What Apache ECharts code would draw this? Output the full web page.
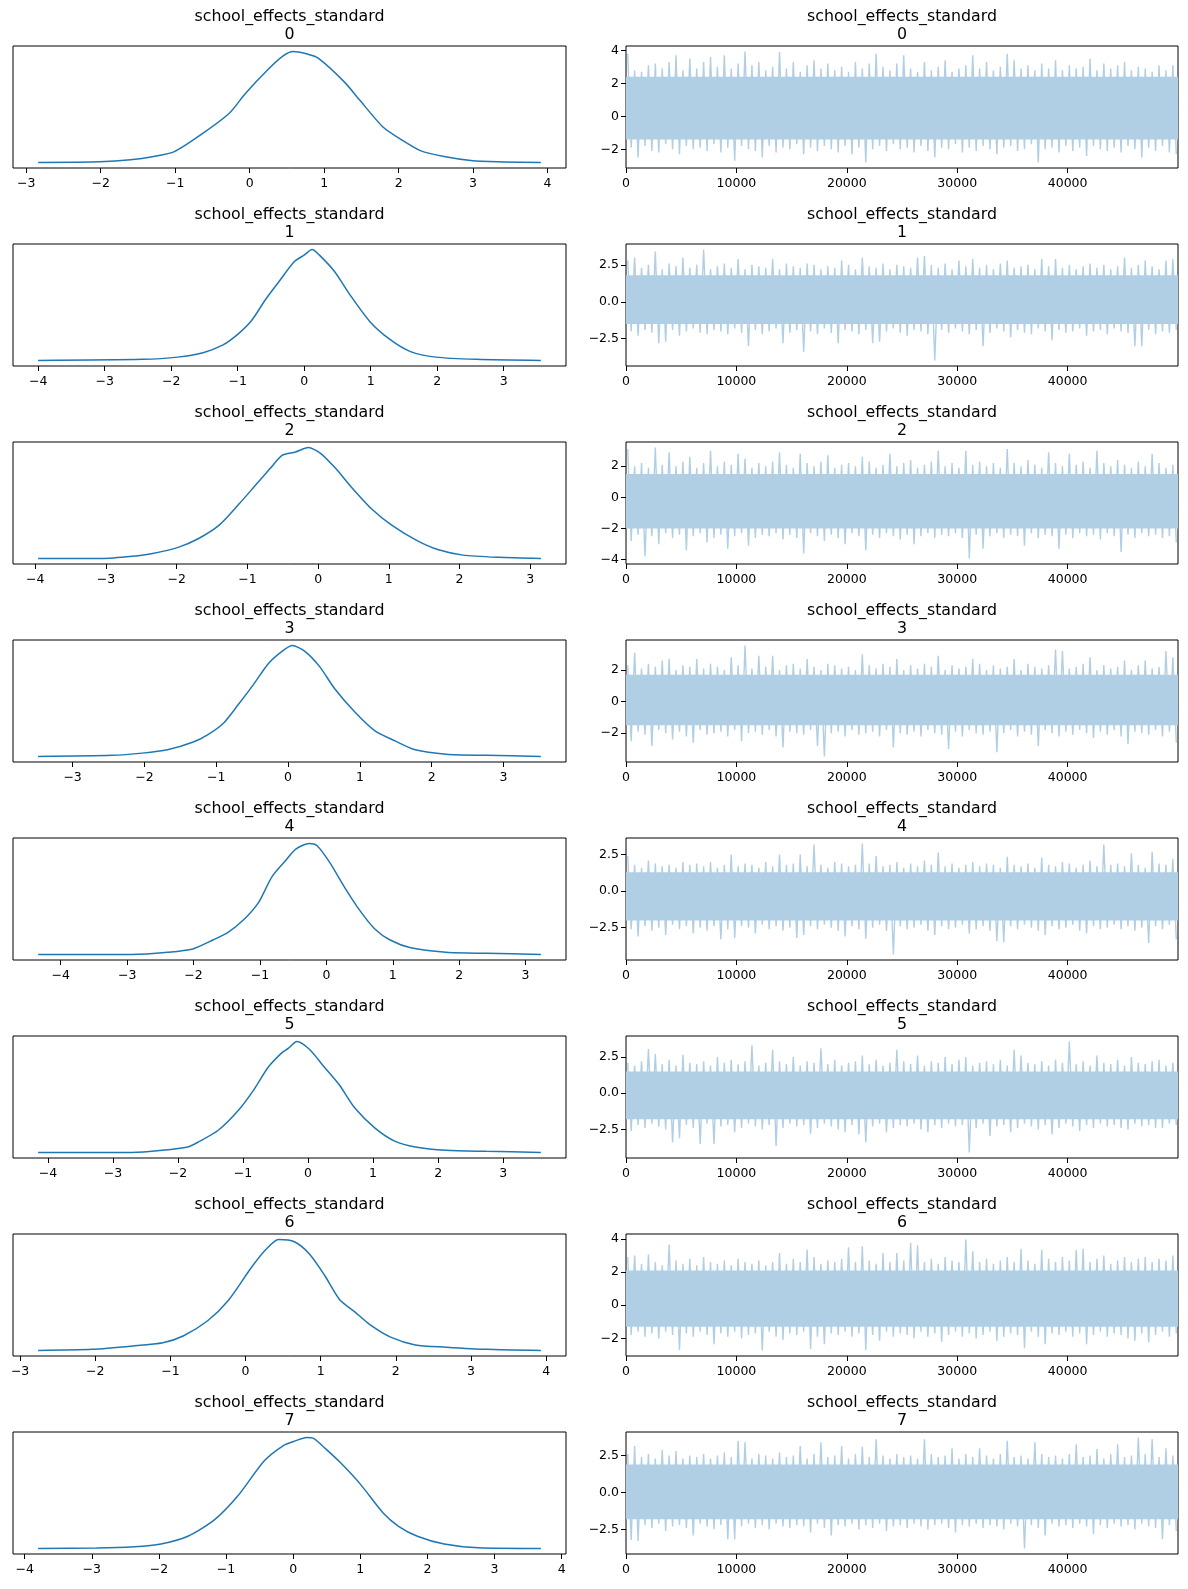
<!DOCTYPE html>
<html><head><meta charset="utf-8">
<script src="https://cdn.jsdelivr.net/npm/echarts@6/dist/echarts.min.js"></script>
<style>html,body{margin:0;padding:0;background:#fff}#c{width:1188px;height:1589px}</style>
</head><body><div id="c"></div><script>
// ---------- data ----------
const varName = 'school_effects_standard';
const indices = [0,1,2,3,4,5,6,7];
const draws = 50000;

// KDE curves (x, relative density)
const kdeX0 = [-2.84,-2.01,-1.60,-1.29,-1.01,-0.63,-0.27,-0.06,0.25,0.45,0.58,0.76,0.92,1.28,1.48,1.79,2.05,2.30,2.61,2.97,3.33,3.91];
const kdeY0 = [0,0.006,0.024,0.054,0.098,0.262,0.446,0.62,0.84,0.96,1.0,0.98,0.94,0.72,0.56,0.32,0.20,0.104,0.054,0.018,0.006,0];
const kdeX1 = [-4.0,-2.43,-1.9,-1.52,-1.22,-0.99,-0.79,-0.58,-0.38,-0.15,0.0,0.12,0.23,0.46,0.68,0.99,1.29,1.6,1.98,2.59,3.56];
const kdeY1 = [0,0.01,0.03,0.07,0.14,0.24,0.36,0.55,0.71,0.89,0.95,1.0,0.95,0.80,0.60,0.35,0.19,0.08,0.03,0.01,0];
const kdeX2 = [-3.96,-3.06,-2.63,-2.34,-1.98,-1.69,-1.4,-1.12,-0.9,-0.68,-0.51,-0.32,-0.14,0.03,0.25,0.46,0.75,1.04,1.4,1.69,2.05,2.55,3.15];
const kdeY2 = [0,0,0.02,0.045,0.10,0.18,0.30,0.49,0.65,0.81,0.93,0.96,1.0,0.95,0.81,0.65,0.45,0.30,0.16,0.08,0.03,0.01,0];
const kdeX3 = [-3.48,-2.45,-2.03,-1.68,-1.32,-1.11,-0.9,-0.69,-0.48,-0.27,-0.08,0.06,0.23,0.44,0.65,0.93,1.21,1.49,1.77,2.2,2.76,3.52];
const kdeY3 = [0,0.01,0.03,0.06,0.13,0.2,0.3,0.47,0.65,0.84,0.95,1.0,0.95,0.81,0.61,0.4,0.23,0.14,0.06,0.02,0.01,0];
const kdeX4 = [-4.34,-2.93,-2.39,-2.01,-1.71,-1.48,-1.25,-1.02,-0.82,-0.61,-0.46,-0.26,-0.14,0.05,0.27,0.5,0.73,0.96,1.27,1.8,2.41,3.23];
const kdeY4 = [0,0,0.02,0.05,0.13,0.2,0.31,0.47,0.7,0.85,0.95,1.0,0.98,0.83,0.61,0.4,0.23,0.13,0.06,0.02,0.01,0];
const kdeX5 = [-4.15,-2.71,-2.24,-1.85,-1.7,-1.38,-1.07,-0.84,-0.61,-0.4,-0.3,-0.17,0.02,0.25,0.48,0.72,1.03,1.34,1.65,2.12,2.74,3.58];
const kdeY5 = [0,0,0.02,0.05,0.09,0.2,0.38,0.56,0.77,0.9,0.94,1.0,0.93,0.77,0.61,0.4,0.22,0.1,0.05,0.02,0.01,0];
const kdeX6 = [-2.76,-2.04,-1.5,-1.1,-0.83,-0.5,-0.23,0.08,0.27,0.44,0.65,0.85,1.05,1.25,1.45,1.66,1.93,2.26,2.67,3.2,3.93];
const kdeY6 = [0,0.01,0.04,0.07,0.13,0.27,0.45,0.75,0.91,1.0,0.98,0.87,0.68,0.46,0.35,0.23,0.12,0.05,0.03,0.01,0];
const kdeX7 = [-3.8,-2.93,-2.37,-1.97,-1.57,-1.17,-0.83,-0.43,-0.14,0.03,0.2,0.31,0.48,0.71,1.0,1.34,1.57,1.85,2.25,2.76,3.69];
const kdeY7 = [0,0.003,0.015,0.04,0.11,0.26,0.47,0.79,0.93,0.97,1.0,0.99,0.9,0.77,0.58,0.32,0.2,0.11,0.04,0.006,0];

// Trace: per-bin high / low extremes (bins of 625 draws) and dense core band
const hi0 = [3.8,2.8,2.7,3.1,3.2,2.9,3.3,3.7,2.8,3.5, 2.9,3.3,3.6,3.0,3.7,2.9,3.2,3.93,3.1,3.3, 2.8,3.0,3.9,2.9,3.3,2.7,3.1,3.4,2.9,3.2, 2.8,3.0,2.7,3.3,2.9,3.2,3.8,3.0,2.8,3.2, 3.7,2.9,2.7,3.3,2.8,3.0,3.4,2.7,2.9,3.1, 3.7,2.9,3.3,2.8,3.0,3.8,3.4,2.9,3.1,2.8, 3.2,2.9,3.4,2.8,3.1,2.9,3.0,3.5,2.8,3.2, 2.9,3.1,3.3,2.8,3.0,2.9,2.7,3.1,2.8,3.1];
const lo0 = [-1.9,-2.5,-1.8,-2.1,-2.2,-1.7,-2.0,-2.3,-1.8,-2.0, -1.9,-2.1,-1.7,-2.2,-1.9,-2.7,-1.8,-2.0,-2.1,-2.5, -1.8,-2.2,-1.9,-2.0,-1.7,-2.3,-1.9,-2.1,-1.8,-2.0, -2.2,-1.8,-2.3,-1.9,-2.8,-2.0,-1.8,-2.1,-1.7,-2.0, -1.9,-2.2,-1.8,-2.1,-2.5,-1.9,-2.0,-1.7,-2.2,-1.9, -2.1,-1.8,-2.0,-2.3,-1.9,-1.8,-2.1,-2.0,-1.7,-2.8, -2.0,-1.9,-2.2,-1.8,-2.1,-1.9,-2.4,-1.8,-2.0,-2.1, -1.9,-2.2,-1.8,-2.0,-2.5,-1.9,-2.1,-1.8,-2.2,-2.3];
const hi1 = [2.8,3.0,2.3,2.5,3.4,2.2,2.6,2.4,3.0,2.3, 2.5,3.54,2.2,2.4,2.6,2.3,2.9,2.2,2.5,2.4, 2.3,2.9,2.2,2.6,2.4,2.3,2.6,2.5,2.2,2.4, 2.3,2.8,2.5,2.2,3.0,2.4,2.3,2.6,2.2,2.5, 2.4,2.3,3.0,3.1,2.5,2.3,2.6,2.2,2.8,2.4, 2.9,2.3,2.5,2.2,2.6,2.8,2.3,2.4,2.5,2.2, 2.9,2.4,2.9,2.3,2.5,2.2,2.4,2.6,2.3,2.5, 2.2,2.4,3.0,2.3,2.5,2.8,2.4,2.2,2.8,2.9];
const lo1 = [-2.0,-2.3,-1.9,-2.1,-2.8,-2.7,-1.9,-2.3,-2.0,-1.8, -2.1,-2.2,-1.9,-2.0,-2.2,-1.8,-2.1,-3.0,-1.9,-2.2, -2.0,-1.8,-2.8,-2.1,-1.9,-3.4,-2.0,-2.2,-1.8,-2.1, -2.8,-1.9,-2.0,-2.2,-1.9,-2.8,-2.7,-2.0,-1.8,-2.1, -2.3,-1.9,-2.0,-2.2,-3.97,-1.9,-2.1,-1.8,-2.0,-2.2, -1.9,-3.0,-2.1,-1.8,-2.0,-2.4,-1.9,-2.1,-2.2,-1.8, -2.0,-2.6,-1.9,-2.1,-2.0,-1.8,-2.3,-2.0,-1.9,-2.2, -1.8,-2.0,-2.1,-3.0,-3.0,-1.9,-2.2,-2.0,-2.1,-1.9];
const hi2 = [3.1,2.0,2.2,1.9,3.2,2.1,2.9,2.0,2.3,2.6, 1.9,2.2,3.0,2.0,2.3,2.1,2.8,2.5,1.9,2.2, 2.0,2.3,2.9,2.1,1.9,2.8,2.2,2.0,2.3,2.7, 1.9,2.1,2.2,2.0,2.6,2.3,1.9,2.1,2.8,2.0, 2.2,2.4,1.9,2.1,2.3,3.0,2.0,2.2,1.9,3.0, 2.1,2.3,2.0,2.2,1.9,3.1,2.2,2.0,2.4,2.1, 1.9,2.9,2.2,2.0,2.8,2.1,2.3,1.9,3.0,2.2, 2.0,2.4,2.1,1.9,2.3,2.0,2.8,2.2,1.9,2.1];
const lo2 = [-2.8,-2.4,-3.8,-2.5,-3.0,-2.3,-2.6,-2.4,-3.4,-2.5, -2.3,-2.9,-2.6,-2.4,-3.3,-2.5,-2.3,-3.1,-2.6,-2.4, -2.5,-2.3,-2.7,-2.4,-2.6,-3.6,-2.3,-2.5,-2.8,-2.4, -2.6,-3.0,-2.3,-2.5,-3.4,-2.4,-2.6,-2.3,-2.5,-2.7, -2.4,-3.0,-2.5,-2.3,-2.6,-2.4,-2.5,-2.3,-2.6,-3.92, -2.4,-3.3,-2.5,-2.3,-2.6,-2.4,-2.5,-3.1,-2.3,-2.6, -2.4,-2.5,-3.3,-2.4,-2.6,-2.3,-2.5,-2.4,-2.7,-2.3, -2.5,-3.5,-2.4,-2.6,-2.3,-2.5,-2.4,-2.6,-2.5,-2.9];
const hi3 = [2.3,3.1,2.1,2.4,2.2,2.6,2.7,2.0,2.3,2.2, 2.7,2.1,2.4,2.2,2.0,2.8,2.3,3.55,2.1,2.9, 2.2,2.9,2.0,2.3,2.4,2.1,2.7,2.2,2.0,2.4, 2.3,2.1,2.2,2.0,3.0,2.3,2.1,2.4,2.2,2.7, 2.0,2.3,2.1,2.4,2.2,2.9,2.0,2.3,2.1,2.2, 2.7,2.4,2.0,2.3,2.1,2.2,2.7,2.0,2.4,2.2, 2.1,2.3,3.3,3.2,2.1,2.2,2.4,2.8,2.0,2.3, 2.1,2.2,2.6,2.0,2.3,2.6,2.1,2.2,3.2,2.8];
const lo3 = [-2.5,-1.9,-2.1,-2.8,-1.8,-2.0,-2.4,-1.9,-2.2,-2.6, -1.8,-2.1,-2.0,-1.9,-2.2,-1.8,-2.5,-2.0,-1.9,-2.1, -1.8,-2.2,-2.9,-1.9,-2.0,-2.1,-1.8,-2.8,-3.47,-2.0, -1.9,-2.2,-1.8,-2.1,-2.0,-1.9,-2.2,-1.8,-2.9,-2.0, -2.1,-1.9,-2.2,-1.8,-2.0,-2.1,-3.0,-1.9,-2.2,-1.8, -2.0,-2.1,-1.9,-3.2,-2.0,-1.8,-2.2,-1.9,-2.1,-2.8, -1.8,-2.0,-2.2,-1.9,-2.1,-1.8,-2.0,-2.3,-1.9,-2.1, -1.8,-2.2,-2.7,-1.9,-2.0,-2.1,-1.8,-2.2,-1.9,-2.6];
const hi4 = [2.4,1.8,1.6,2.1,1.9,1.7,1.8,1.6,2.0,1.8, 1.9,1.7,2.0,1.6,1.8,2.5,1.7,1.9,1.8,1.6, 2.0,1.7,2.5,1.8,1.9,2.5,1.7,3.2,1.8,1.6, 2.0,1.9,1.7,1.8,3.26,1.9,2.4,1.7,1.8,2.0, 1.6,1.9,1.7,2.1,1.8,2.65,1.7,1.9,1.6,1.8, 2.0,1.7,1.9,1.8,1.6,2.35,1.8,1.7,1.9,1.6, 2.3,1.8,1.7,2.0,1.9,1.6,1.8,2.1,1.7,3.2, 1.8,1.9,1.7,2.6,1.8,1.6,2.7,1.9,1.8,2.2];
const lo4 = [-2.6,-3.1,-2.4,-2.7,-2.5,-3.0,-2.3,-2.6,-2.4,-2.9, -2.5,-2.7,-2.4,-3.3,-2.6,-3.2,-2.4,-2.5,-2.9,-2.3, -2.6,-2.4,-2.7,-2.5,-3.2,-3.0,-2.4,-2.6,-2.3,-2.5, -2.7,-3.1,-2.4,-2.6,-3.25,-2.5,-2.3,-2.7,-4.33,-2.4, -2.6,-2.5,-2.3,-2.7,-3.0,-2.4,-2.6,-2.5,-2.3,-2.9, -2.6,-2.4,-2.7,-3.4,-3.5,-2.4,-2.6,-2.3,-2.5,-2.7, -3.0,-2.4,-2.6,-2.5,-2.3,-2.7,-2.9,-2.4,-2.6,-2.5, -2.3,-2.6,-2.4,-2.7,-2.5,-3.55,-2.4,-2.6,-2.3,-3.3];
const hi5 = [2.1,1.9,2.2,3.05,2.7,2.0,2.3,1.9,2.65,2.1, 2.0,2.2,1.9,2.5,2.1,2.3,2.0,2.2,3.3,1.9, 2.1,3.0,2.2,2.0,2.5,1.9,2.2,2.1,3.1,2.0, 2.3,1.9,2.1,2.2,2.6,2.0,2.3,1.9,2.1,3.0, 2.2,2.0,2.6,1.9,2.2,2.1,2.5,2.0,2.3,2.5, 1.9,2.1,2.2,2.0,2.3,1.9,3.0,2.6,2.1,2.0, 2.2,1.9,2.3,2.1,3.56,2.0,2.2,1.9,2.6,2.1, 2.0,2.3,1.9,2.5,2.1,2.0,2.2,2.3,1.9,2.1];
const lo5 = [-2.6,-2.2,-2.4,-2.1,-2.3,-2.5,-3.4,-3.1,-2.2,-2.4, -3.5,-2.1,-3.5,-2.3,-2.2,-2.7,-2.4,-2.1,-2.3,-2.5, -2.2,-3.65,-2.4,-2.1,-2.3,-2.2,-2.8,-2.4,-2.1,-2.3, -2.5,-2.7,-2.2,-2.85,-3.4,-2.3,-2.1,-2.7,-2.4,-2.2, -2.3,-2.1,-2.5,-2.7,-2.2,-2.4,-2.1,-2.3,-2.2,-4.09, -2.4,-2.1,-2.95,-2.3,-2.2,-2.7,-2.4,-2.1,-2.3,-2.5, -2.2,-2.85,-2.4,-2.1,-2.3,-2.6,-2.2,-2.4,-2.1,-2.3, -2.2,-2.4,-2.5,-2.1,-2.3,-2.2,-2.4,-2.4,-2.1,-2.2];
const hi6 = [2.9,3.0,2.5,3.05,2.6,2.4,3.66,2.7,2.5,2.8, 2.4,2.9,2.6,2.5,2.7,2.4,2.8,2.6,2.5,2.7, 2.4,2.6,3.15,2.5,2.8,2.6,3.36,2.9,2.5,2.7, 2.6,2.8,3.5,2.6,3.56,2.7,2.5,3.15,2.6,3.15, 2.7,3.76,3.62,2.6,2.8,2.5,2.9,2.7,2.6,3.96, 3.25,2.6,2.8,2.5,2.7,2.9,2.6,3.4,2.7,2.5, 3.35,2.8,2.6,2.9,2.7,3.33,3.4,2.6,2.8,3.0, 2.5,2.7,2.9,2.6,2.8,2.9,2.6,2.8,2.7,3.0];
const lo6 = [-1.8,-1.6,-1.9,-1.7,-2.0,-1.6,-1.8,-2.7,-1.7,-1.9, -1.6,-1.8,-2.35,-1.7,-1.9,-1.6,-2.0,-1.8,-1.7,-2.73, -1.6,-1.9,-2.1,-1.7,-1.8,-1.6,-2.64,-1.9,-2.35,-1.7, -1.8,-1.6,-1.9,-1.7,-2.7,-1.8,-2.15,-1.6,-1.9,-1.7, -1.8,-2.0,-1.6,-1.9,-1.7,-2.2,-1.8,-1.6,-1.9,-1.7, -2.0,-1.8,-1.6,-2.15,-1.9,-1.7,-1.8,-2.6,-1.6,-1.9, -2.35,-1.7,-1.8,-1.6,-1.9,-1.7,-2.35,-1.8,-1.6,-1.9, -1.7,-1.8,-2.0,-2.15,-1.7,-2.25,-1.8,-1.6,-1.9,-1.7];
const hi7 = [2.6,3.15,2.4,2.6,2.3,2.9,2.5,2.8,2.3,2.5, 2.4,2.6,2.3,2.5,2.7,2.4,3.5,3.4,2.3,2.6, 2.5,2.3,2.7,2.4,2.5,3.15,2.3,2.6,3.4,2.4, 2.5,3.15,2.3,2.6,3.1,2.4,3.6,2.5,2.3,2.6, 2.4,2.5,2.3,3.6,2.6,2.4,2.5,3.0,2.3,2.6, 2.4,3.0,2.5,2.3,2.6,3.5,2.4,2.5,2.3,3.4, 2.6,2.4,2.5,2.3,2.6,3.27,2.4,2.5,2.95,2.3, 2.6,3.27,2.4,2.5,3.72,2.6,3.6,2.4,3.0,2.5];
const lo7 = [-3.2,-3.27,-2.2,-2.4,-2.1,-2.6,-2.3,-2.2,-2.4,-2.9, -2.1,-2.3,-2.5,-2.2,-3.15,-3.15,-2.3,-2.1,-2.4,-2.2, -2.5,-2.1,-2.3,-2.4,-2.2,-2.3,-2.7,-2.1,-2.4,-2.9, -2.2,-2.3,-2.1,-2.5,-2.2,-2.4,-2.1,-2.6,-2.3,-2.2, -2.4,-2.1,-2.3,-2.5,-2.2,-2.1,-2.4,-2.7,-2.2,-2.3, -2.1,-2.4,-2.2,-2.3,-2.5,-2.1,-2.3,-3.78,-2.2,-2.4, -2.9,-2.1,-2.3,-2.2,-2.4,-2.1,-2.3,-2.8,-2.2,-2.4, -2.1,-2.3,-2.2,-2.5,-2.1,-2.3,-2.4,-3.15,-2.2,-2.6];
const coreHi = [2.4, 1.8, 1.5, 1.7, 1.3, 1.5, 2.1, 1.9];
const coreLo = [-1.4, -1.5, -2.0, -1.5, -2.0, -1.8, -1.3, -1.8];

// Tick labels
const kdeTicks = [[-3,-2,-1,0,1,2,3,4],[-4,-3,-2,-1,0,1,2,3],[-4,-3,-2,-1,0,1,2,3],[-3,-2,-1,0,1,2,3],[-4,-3,-2,-1,0,1,2,3],[-4,-3,-2,-1,0,1,2,3],[-3,-2,-1,0,1,2,3,4],[-4,-3,-2,-1,0,1,2,3,4]];
const traceYTicks = [[-2,0,2,4],[-2.5,0,2.5],[-4,-2,0,2],[-2,0,2],[-2.5,0,2.5],[-2.5,0,2.5],[-2,0,2,4],[-2.5,0,2.5]];
const traceXTicks = [0,10000,20000,30000,40000];

// ---------- build ----------
const kdeXs = [kdeX0,kdeX1,kdeX2,kdeX3,kdeX4,kdeX5,kdeX6,kdeX7];
const kdeYs = [kdeY0,kdeY1,kdeY2,kdeY3,kdeY4,kdeY5,kdeY6,kdeY7];
const his = [hi0,hi1,hi2,hi3,hi4,hi5,hi6,hi7];
const los = [lo0,lo1,lo2,lo3,lo4,lo5,lo6,lo7];

const FONT = 'DejaVu Sans';
const KDE_COLOR = '#1f77b4';
const TRACE_COLOR = 'rgb(177,207,228)';
const TICK_FS = 12.5;
const uminus = s => String(s).replace('-', '\u2212');
const pad = (a, b) => { const r = b - a; return [a - 0.05 * r, b + 0.05 * r]; };

const rowTop = i => 46 + 198 * i;
const rowH = 122;
const L = {left: 13, width: 553}, R = {left: 626, width: 552};

const grids = [], xAxes = [], yAxes = [], series = [], titles = [];
const labelStyle = {fontFamily: FONT, fontSize: TICK_FS, color: '#000'};
const tickStyle = {show: true, length: 5, lineStyle: {color: '#000', width: 1}};

indices.forEach((idx, i) => {
  const top = rowTop(i);
  [L, R].forEach(g => grids.push({left: g.left, top: top, width: g.width, height: rowH, show: true,
    borderColor: '#000', borderWidth: 1, backgroundColor: 'transparent', containLabel: false, outerBoundsMode: 'none'}));
  const text = varName + '\n' + idx;
  [[L.left + L.width / 2], [R.left + R.width / 2]].forEach(c => titles.push({
    text: text, left: c[0], top: top - 38.5, textAlign: 'center', padding: 0,
    textStyle: {fontFamily: FONT, fontSize: 15.8, fontWeight: 'normal', color: '#000', lineHeight: 18.5}
  }));

  // KDE panel
  const kx = kdeXs[i], ky = kdeYs[i];
  const [xmin, xmax] = pad(Math.min(...kx), Math.max(...kx));
  const [ymin, ymax] = pad(Math.min(...ky), Math.max(...ky));
  const gi = i * 2;
  xAxes.push({type: 'value', gridIndex: gi, min: xmin, max: xmax,
    axisLine: {show: false, onZero: false}, splitLine: {show: false},
    axisTick: Object.assign({customValues: kdeTicks[i]}, tickStyle),
    axisLabel: Object.assign({customValues: kdeTicks[i], margin: 9, formatter: v => uminus(v)}, labelStyle)});
  yAxes.push({type: 'value', gridIndex: gi, min: ymin, max: ymax,
    axisLine: {show: false, onZero: false}, splitLine: {show: false}, axisTick: {show: false}, axisLabel: {show: false}});
  series.push({type: 'line', xAxisIndex: gi, yAxisIndex: gi, data: kx.map((x, j) => [x, ky[j]]),
    showSymbol: false, smooth: 0.25, lineStyle: {color: KDE_COLOR, width: 1.5}, animation: false, silent: true});

  // Trace panel
  const h = his[i], l = los[i];
  const n = Math.min(h.length, l.length);
  const bw = draws / n;
  const pts = [];
  for (let k = 0; k < n; k++) {
    pts.push([k * bw + bw * 0.25, h[k]]);
    pts.push([k * bw + bw * 0.75, l[k]]);
  }
  const [tmin, tmax] = pad(Math.min(...l, coreLo[i]), Math.max(...h, coreHi[i]));
  const ti = i * 2 + 1;
  const dec = traceYTicks[i].some(t => !Number.isInteger(t)) ? 1 : 0;
  xAxes.push({type: 'value', gridIndex: ti, min: 0, max: draws - 1,
    axisLine: {show: false, onZero: false}, splitLine: {show: false},
    axisTick: Object.assign({customValues: traceXTicks}, tickStyle),
    axisLabel: Object.assign({customValues: traceXTicks, margin: 9, formatter: v => String(v)}, labelStyle)});
  yAxes.push({type: 'value', gridIndex: ti, min: tmin, max: tmax,
    axisLine: {show: false, onZero: false}, splitLine: {show: false},
    axisTick: Object.assign({customValues: traceYTicks[i]}, tickStyle),
    axisLabel: Object.assign({customValues: traceYTicks[i], margin: 7, formatter: v => uminus(Number(v).toFixed(dec))}, labelStyle)});
  series.push({type: 'line', xAxisIndex: ti, yAxisIndex: ti, data: pts, showSymbol: false,
    lineStyle: {color: TRACE_COLOR, width: 1.4}, animation: false, silent: true,
    markArea: {silent: true, label: {show: false}, itemStyle: {color: TRACE_COLOR},
      data: [[{xAxis: 0, yAxis: coreLo[i]}, {xAxis: draws - 1, yAxis: coreHi[i]}]]}});
});

const chart = echarts.init(document.getElementById('c'), null, {renderer: 'canvas'});
chart.setOption({
  animation: false,
  backgroundColor: '#fff',
  title: titles,
  grid: grids,
  xAxis: xAxes,
  yAxis: yAxes,
  series: series
});
</script></body></html>
